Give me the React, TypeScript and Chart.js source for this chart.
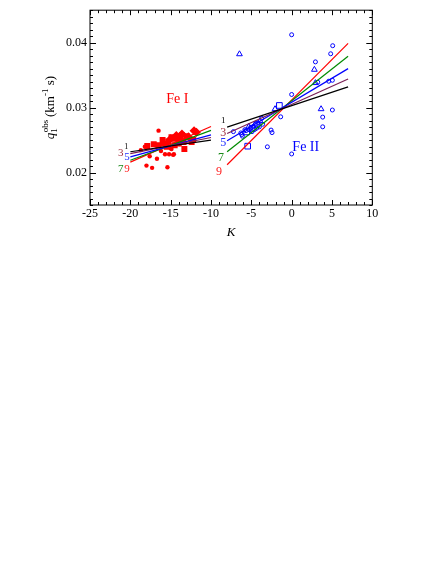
import React, { useEffect, useRef } from 'react';
import { Chart, registerables } from 'chart.js';

Chart.register(...registerables);

const SERIF = '"Liberation Serif", "DejaVu Serif", serif';

// Axis ticks
const xTickValues = [-25, -20, -15, -10, -5, 0, 5, 10];
const yTickValues = [0.02, 0.03, 0.04];
const xMin = -25;
const xMax = 10;
const yMin = 0.015;
const yMax = 0.045;

// Fitted lines, Fe I
const feILineX = [-20, -10];
const feILine1 = [0.0232, 0.025];
const feILine3 = [0.0229, 0.0254];
const feILine5 = [0.0224, 0.0258];
const feILine7 = [0.0219, 0.0265];
const feILine9 = [0.0216, 0.0271];

// Fitted lines, Fe II
const feIILineX = [-8, 7];
const feIILine1 = [0.027, 0.0332];
const feIILine3 = [0.026, 0.0344];
const feIILine5 = [0.0249, 0.036];
const feIILine7 = [0.0232, 0.0379];
const feIILine9 = [0.0212, 0.0399];

// Fe I observations (filled red)
const feICircleX = [-16.5, -18.0, -17.3, -15.4, -16.7, -15.7, -15.2, -14.6, -18.2, -18.7, -16.2, -14.9, -17.6, -13.9, -15.0, -16.9, -12.3, -14.7];
const feICircleY = [0.02645, 0.02107, 0.02072, 0.02082, 0.02212, 0.02281, 0.02281, 0.02281, 0.02396, 0.02345, 0.02331, 0.02361, 0.02250, 0.0244, 0.02375, 0.0242, 0.025, 0.02272];
const feISquareX = [-17.1, -16.5, -15.9, -15.3, -14.5, -13.8, -13.4, -13.0, -14.5, -13.3, -14.9, -15.5, -12.4, -14.0, -16.0, -17.9, -12.2, -13.6];
const feISquareY = [0.02435, 0.0242, 0.02445, 0.0248, 0.0252, 0.02545, 0.0247, 0.0256, 0.0242, 0.02361, 0.02545, 0.02396, 0.0247, 0.02445, 0.025, 0.0241, 0.025, 0.0258];
const feIDiamondX = [-12.1, -11.8, -13.6, -14.3, -14.0, -12.8, -15.0];
const feIDiamondY = [0.02645, 0.0262, 0.02595, 0.0257, 0.025, 0.0255, 0.0252];

// Fe II observations (open blue)
const feIICircleX = [0, 4.84, 5.09, 2.95, 3.24, 4.6, 5.05, 0, 5.05, 3.85, 3.85, -1.36, -2.55, -2.43, -3.01, 0, -7.22, -6.19, -6.11, -5.65, -5.24, -5.07, -4.74, -4.5, -4.21, -4.91, -4.58, -4.33, -4.0, -3.59, -3.71, -6.3, -5.8];
const feIICircleY = [0.04122, 0.03829, 0.03953, 0.03704, 0.03391, 0.03406, 0.03421, 0.03202, 0.02963, 0.02854, 0.02704, 0.02858, 0.02654, 0.02615, 0.02396, 0.02286, 0.0263, 0.02585, 0.0256, 0.02644, 0.02659, 0.02694, 0.02714, 0.02744, 0.02769, 0.0263, 0.02664, 0.02684, 0.02704, 0.02744, 0.02834, 0.0261, 0.0266];
const feIITriX = [-6.47, 2.82, 2.95, 3.65, -2.06, -3.92, -5.3];
const feIITriY = [0.03824, 0.03585, 0.0338, 0.02978, 0.02978, 0.02794, 0.0271];
const feIISqX = [-1.52, -5.45, -5.57, -4.9, -4.3];
const feIISqY = [0.03033, 0.02406, 0.02625, 0.0268, 0.0274];

// Line labels
const lineLabels = ['1', '3', '5', '7', '9'];
const feILabelX = [-20.5, -21.2, -20.4, -21.2, -20.4];
const feILabelY = [0.0240, 0.0230, 0.02242, 0.02052, 0.02052];
const feIILabelX = [-8.47, -8.47, -8.47, -8.75, -9.0];
const feIILabelY = [0.028, 0.02604, 0.02455, 0.02221, 0.02007];

const lineColors = ['#000000', '#7a1f55', '#0000ff', '#008a00', '#ff0000'];
const labelColors = ['#000000', '#a03040', '#2030ff', '#1a8a1a', '#ff2020'];

const RED = '#ff0000';
const BLUE = '#0000ff';

const pts = (xs: number[], ys: number[]) => xs.map((x, i) => ({ x, y: ys[i] }));

export default function App() {
  const ref = useRef<HTMLCanvasElement>(null);

  useEffect(() => {
    const canvas = ref.current;
    if (!canvas) return;

    const feILines = [feILine1, feILine3, feILine5, feILine7, feILine9];
    const feIILines = [feIILine1, feIILine3, feIILine5, feIILine7, feIILine9];

    const lineSets: any[] = [];
    feILines.forEach((ys, i) =>
      lineSets.push({
        data: pts(feILineX, ys),
        showLine: true,
        borderColor: lineColors[i],
        borderWidth: 1.2,
        pointRadius: 0,
        fill: false,
        order: 0,
      })
    );
    feIILines.forEach((ys, i) =>
      lineSets.push({
        data: pts(feIILineX, ys),
        showLine: true,
        borderColor: lineColors[i],
        borderWidth: 1.2,
        pointRadius: 0,
        fill: false,
        order: 0,
      })
    );

    const pointSets: any[] = [
      { data: pts(feICircleX, feICircleY), pointStyle: 'circle', pointRadius: 2.2, backgroundColor: RED, borderColor: RED, borderWidth: 0, order: 1 },
      { data: pts(feISquareX, feISquareY), pointStyle: 'rect', pointRadius: 4.2, backgroundColor: RED, borderColor: RED, borderWidth: 0, order: 1 },
      { data: pts(feIDiamondX, feIDiamondY), pointStyle: 'rectRot', pointRadius: 4.5, backgroundColor: RED, borderColor: RED, borderWidth: 0, order: 1 },
      { data: pts(feIICircleX, feIICircleY), pointStyle: 'circle', pointRadius: 2, backgroundColor: 'rgba(0,0,0,0)', borderColor: BLUE, borderWidth: 1, order: 1 },
      { data: pts(feIITriX, feIITriY), pointStyle: 'triangle', pointRadius: 3.3, backgroundColor: 'rgba(0,0,0,0)', borderColor: BLUE, borderWidth: 1, order: 1 },
      { data: pts(feIISqX, feIISqY), pointStyle: 'rect', pointRadius: 4, backgroundColor: 'rgba(0,0,0,0)', borderColor: BLUE, borderWidth: 1, order: 1 },
    ];

    const framePlugin = {
      id: 'frameAndText',
      afterDraw(chart: any) {
        const ctx = chart.ctx as CanvasRenderingContext2D;
        const a = chart.chartArea;
        const xs = chart.scales.x;
        const ys = chart.scales.y;
        ctx.save();
        ctx.strokeStyle = '#000';
        ctx.lineWidth = 1;
        ctx.strokeRect(a.left, a.top, a.right - a.left, a.bottom - a.top);
        ctx.beginPath();
        for (let v = xMin; v <= xMax; v += 1) {
          const px = Math.round(xs.getPixelForValue(v)) + 0.5;
          const len = v % 5 === 0 ? 5 : 3;
          ctx.moveTo(px, a.bottom);
          ctx.lineTo(px, a.bottom - len);
          ctx.moveTo(px, a.top);
          ctx.lineTo(px, a.top + len);
        }
        for (let k = 15; k <= 45; k += 1) {
          const v = k / 1000;
          const py = Math.round(ys.getPixelForValue(v)) + 0.5;
          const len = k % 10 === 0 ? 6 : 3;
          ctx.moveTo(a.left, py);
          ctx.lineTo(a.left + len, py);
          ctx.moveTo(a.right, py);
          ctx.lineTo(a.right - len, py);
        }
        ctx.stroke();

        // line labels
        ctx.textAlign = 'center';
        ctx.textBaseline = 'middle';
        lineLabels.forEach((t, i) => {
          ctx.fillStyle = labelColors[i];
          ctx.font = `${i === 0 ? 8 : 11}px ${SERIF}`;
          ctx.fillText(t, xs.getPixelForValue(feILabelX[i]), ys.getPixelForValue(feILabelY[i]));
          ctx.font = `${i === 0 ? 9 : 12}px ${SERIF}`;
          ctx.fillText(t, xs.getPixelForValue(feIILabelX[i]), ys.getPixelForValue(feIILabelY[i]));
        });

        // species labels
        ctx.font = `14px ${SERIF}`;
        ctx.fillStyle = RED;
        ctx.fillText('Fe I', xs.getPixelForValue(-14.17), ys.getPixelForValue(0.03122));
        ctx.fillStyle = BLUE;
        ctx.fillText('Fe II', xs.getPixelForValue(1.75), ys.getPixelForValue(0.02385));

        // x title
        ctx.fillStyle = '#000';
        ctx.font = `italic 13px ${SERIF}`;
        ctx.fillText('K', (a.left + a.right) / 2, 233);

        // y title (rotated, rich text)
        ctx.translate(50, (a.top + a.bottom) / 2);
        ctx.rotate(-Math.PI / 2);
        ctx.textAlign = 'left';
        ctx.textBaseline = 'alphabetic';
        const mainI = `italic 13px ${SERIF}`;
        const main = `13px ${SERIF}`;
        const small = `9px ${SERIF}`;
        ctx.font = mainI; const wq = ctx.measureText('q').width;
        ctx.font = small; const w1 = ctx.measureText('1').width; const wobs = ctx.measureText('obs').width; const wm1 = ctx.measureText('-1').width;
        ctx.font = main; const wkm = ctx.measureText(' (km').width; const ws = ctx.measureText(' s)').width;
        const total = wq + Math.max(w1, wobs) + wkm + wm1 + ws;
        let x0 = -total / 2;
        const b = 4;
        ctx.font = mainI; ctx.fillText('q', x0, b); x0 += wq;
        ctx.font = small; ctx.fillText('1', x0, b + 3); ctx.fillText('obs', x0 + 0.5, b - 6); x0 += Math.max(w1, wobs);
        ctx.font = main; ctx.fillText(' (km', x0, b); x0 += wkm;
        ctx.font = small; ctx.fillText('-1', x0, b - 6); x0 += wm1;
        ctx.font = main; ctx.fillText(' s)', x0, b);
        ctx.restore();
      },
    };

    const chart = new Chart(canvas, {
      type: 'scatter',
      data: { datasets: [...lineSets, ...pointSets] },
      options: {
        responsive: false,
        animation: false,
        devicePixelRatio: 1,
        layout: { padding: { top: 4, right: 63.7, left: 0, bottom: 0 } },
        plugins: { legend: { display: false }, tooltip: { enabled: false } },
        scales: {
          x: {
            type: 'linear',
            min: xMin,
            max: xMax,
            afterBuildTicks: (s: any) => { s.ticks = xTickValues.map((v) => ({ value: v })); },
            afterFit: (s: any) => { s.height = 359; },
            grid: { display: false, drawTicks: false },
            border: { display: false },
            ticks: {
              color: '#000',
              font: { family: SERIF, size: 12 },
              padding: 2,
              maxRotation: 0,
              autoSkip: false,
              callback: (v: any) => String(v),
            },
          },
          y: {
            type: 'linear',
            min: yMin,
            max: yMax,
            afterBuildTicks: (s: any) => { s.ticks = yTickValues.map((v) => ({ value: v })); },
            afterFit: (s: any) => { s.width = 90; },
            grid: { display: false, drawTicks: false },
            border: { display: false },
            ticks: {
              color: '#000',
              font: { family: SERIF, size: 12 },
              padding: 3,
              autoSkip: false,
              callback: (v: any) => Number(v).toFixed(2),
            },
          },
        },
      } as any,
      plugins: [framePlugin],
    });

    return () => chart.destroy();
  }, []);

  return (
    <div style={{ position: 'absolute', left: 0, top: 0, width: 436, height: 564, background: '#fff' }}>
      <canvas ref={ref} width={436} height={564} style={{ display: 'block', width: 436, height: 564 }} />
    </div>
  );
}
